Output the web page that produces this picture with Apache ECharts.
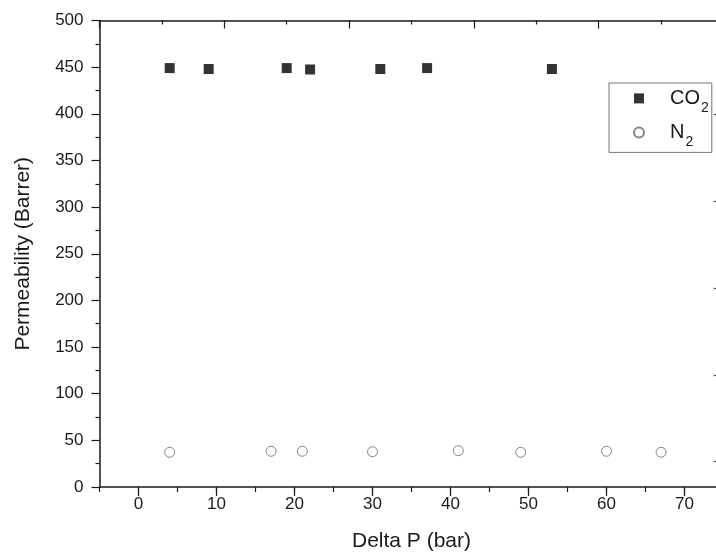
<!DOCTYPE html>
<html>
<head>
<meta charset="utf-8">
<script src="https://cdn.jsdelivr.net/npm/echarts@6/dist/echarts.min.js"></script>
<style>
  html, body { margin: 0; padding: 0; overflow: hidden; background: #fff; }
  #chart { width: 730px; height: 556px; }
</style>
</head>
<body>
<div id="chart"></div>
<script>
// CO2 points: [delta P (bar), permeability (Barrer)]
const co2Data = [[4, 449], [9, 448], [19, 449], [22, 447.5], [31, 448], [37, 449], [53, 448]];
// N2 points
const n2Data = [[4, 37.2], [17, 38.3], [21, 38.3], [30, 37.8], [41, 38.9], [49, 37.2], [60, 38.3], [67, 37.2]];

const xTicks = [0, 10, 20, 30, 40, 50, 60, 70];
const rightTicks = [28, 120, 213, 306, 399];

const font = "'Liberation Sans', Arial, sans-serif";
const ink = '#1a1a1a';

const chart = echarts.init(document.getElementById('chart'));

chart.setOption({
  animation: false,
  grid: { left: 99.5, top: 20.5, width: 624, height: 466.5, outerBoundsMode: 'none' },
  legend: {
    orient: 'vertical',
    left: 609,
    top: 83,
    padding: [5.4, 3, 2.8, 24],
    itemGap: 7.2,
    itemWidth: 10,
    itemHeight: 10,
    borderColor: '#777',
    borderWidth: 1,
    backgroundColor: '#fff',
    data: ['CO2', 'N2'],
    // last character is written as a subscript
    formatter: (name) => '{a|' + name.slice(0, -1) + '}{s|' + name.slice(-1) + '}',
    textStyle: {
      color: ink,
      fontFamily: font,
      rich: {
        a: { fontSize: 20, fontFamily: font, color: ink, padding: [0, 0, 0, 21], lineHeight: 20 },
        s: { fontSize: 14, fontFamily: font, color: ink, padding: [20, 0, 0, 1] }
      }
    }
  },
  xAxis: [
    {
      type: 'value',
      position: 'bottom',
      min: -5,
      max: 75,
      interval: 5,
      name: 'Delta P (bar)',
      nameLocation: 'middle',
      nameGap: 44,
      nameTextStyle: { fontSize: 21, fontFamily: font, color: ink },
      axisLine: { onZero: false, lineStyle: { color: ink, width: 1.5 } },
      axisTick: { length: 5, lineStyle: { color: ink, width: 1.2 } },
      axisLabel: { customValues: xTicks, margin: 9, fontSize: 17, fontFamily: font, color: ink },
      splitLine: { show: false }
    },
    {
      // long ticks at the labelled values
      type: 'value',
      position: 'bottom',
      min: -5,
      max: 75,
      axisLine: { show: false, onZero: false },
      axisTick: { customValues: xTicks, length: 9, lineStyle: { color: ink, width: 1.2 } },
      axisLabel: { show: false },
      splitLine: { show: false }
    },
    {
      type: 'value',
      position: 'top',
      min: 0,
      max: 5,
      interval: 1,
      axisLine: { onZero: false, lineStyle: { color: ink, width: 1.5 } },
      axisTick: { inside: true, length: 8, lineStyle: { color: ink, width: 1.2 } },
      minorTick: { show: true, splitNumber: 2, length: 4, lineStyle: { color: ink, width: 1.2 } },
      axisLabel: { show: false },
      splitLine: { show: false }
    }
  ],
  yAxis: [
    {
      type: 'value',
      position: 'left',
      min: 0,
      max: 500,
      interval: 50,
      name: 'Permeability (Barrer)',
      nameLocation: 'middle',
      nameGap: 66,
      nameTextStyle: { fontSize: 21, fontFamily: font, color: ink },
      axisLine: { show: true, onZero: false, lineStyle: { color: ink, width: 1.5 } },
      axisTick: { show: true, length: 8, lineStyle: { color: ink, width: 1.2 } },
      minorTick: { show: true, splitNumber: 2, length: 4, lineStyle: { color: ink, width: 1.2 } },
      axisLabel: { margin: 16, fontSize: 17, fontFamily: font, color: ink },
      splitLine: { show: false }
    },
    {
      type: 'value',
      position: 'right',
      min: 0,
      max: 500,
      axisLine: { show: true, onZero: false, lineStyle: { color: ink, width: 1.5 } },
      axisTick: { show: true, inside: true, customValues: rightTicks, length: 10, lineStyle: { color: '#555', width: 1.2 } },
      axisLabel: { show: false },
      splitLine: { show: false }
    }
  ],
  series: [
    {
      name: 'CO2',
      type: 'scatter',
      symbol: 'rect',
      symbolSize: 10,
      itemStyle: { color: '#000' },
      data: co2Data
    },
    {
      name: 'N2',
      type: 'scatter',
      symbol: 'circle',
      symbolSize: 10,
      itemStyle: { color: '#fff', borderColor: '#666', borderWidth: 1 },
      data: n2Data
    }
  ]
});
</script>
</body>
</html>
